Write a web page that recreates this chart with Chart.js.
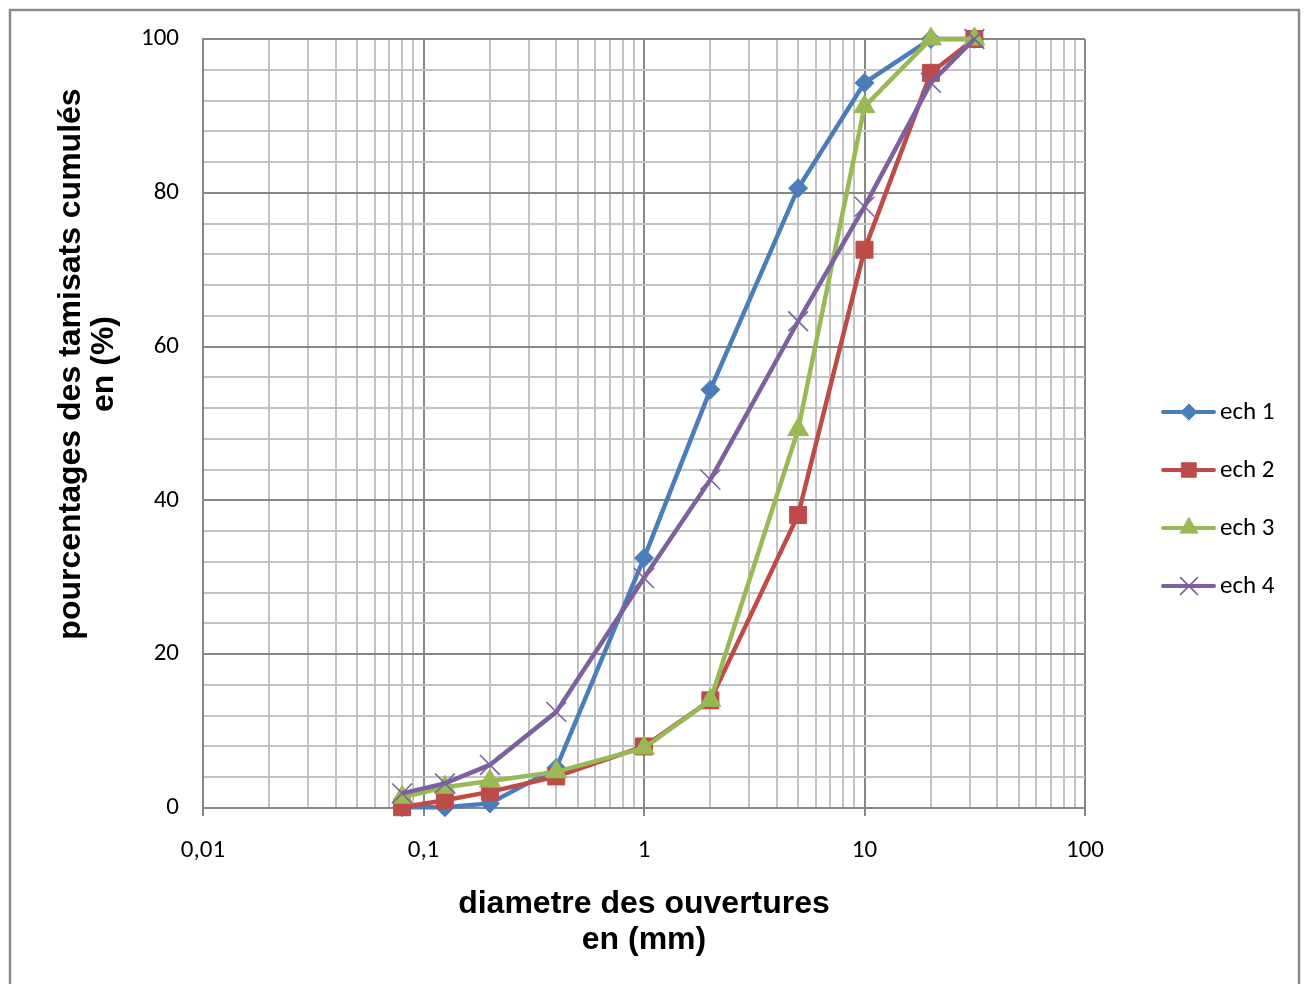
<!DOCTYPE html>
<html><head><meta charset="utf-8">
<script src="https://cdn.jsdelivr.net/npm/chart.js@4"></script>
<style>html,body{margin:0;padding:0;background:#fff}canvas{display:block}</style>
</head><body>
<canvas id="c" width="1304" height="984"></canvas>
<script>
// ---- data ----
const sieveSizes = [0.08, 0.125, 0.2, 0.4, 1, 2, 5, 10, 20, 31.5];
const ech1 = [0.1, 0.1, 0.6, 5.2, 32.5, 54.4, 80.6, 94.3, 100, 100];
const ech2 = [0.1, 1.0, 2.1, 4.1, 8.0, 14.0, 38.1, 72.6, 95.6, 100];
const ech3 = [1.4, 2.7, 3.5, 4.7, 7.8, 14.0, 49.2, 91.2, 100, 100];
const ech4 = [1.9, 3.2, 5.6, 12.5, 29.9, 42.7, 63.3, 78.2, 94.3, 100];
const seriesNames = ['ech 1', 'ech 2', 'ech 3', 'ech 4'];
const seriesValues = [ech1, ech2, ech3, ech4];
const xMajorTicks = [0.01, 0.1, 1, 10, 100];
const xTickLabels = ['0,01', '0,1', '1', '10', '100'];
const yMajorTicks = [0, 20, 40, 60, 80, 100];
const yTickLabels = ['0', '20', '40', '60', '80', '100'];
const yTitle = ['pourcentages des tamisats cumulés', 'en (%)'];
const xTitle = ['diametre des ouvertures', 'en (mm)'];

// ---- styles ----
const styles = [
  {color: '#4A7EBB', pointStyle: 'rectRot', radius: 9.5, pbw: 1},
  {color: '#BE4B48', pointStyle: 'rect', radius: 12, pbw: 1},
  {color: '#98B954', pointStyle: 'triangle', radius: 12, pbw: 1},
  {color: '#7D60A0', pointStyle: 'crossRot', radius: 14, pbw: 1.6}
];
const MAJOR = '#878787', MINOR = '#c3c3c3';
const TICK_FONT = {family: 'Carlito, Lato, sans-serif', size: 25};

const datasets = seriesValues.map((vals, i) => ({
  label: seriesNames[i],
  data: vals.map((v, k) => ({x: sieveSizes[k], y: v})),
  borderColor: styles[i].color,
  backgroundColor: styles[i].color,
  borderWidth: 4.5,
  pointStyle: styles[i].pointStyle,
  pointRadius: styles[i].radius,
  pointBackgroundColor: styles[i].color,
  pointBorderColor: styles[i].color,
  pointBorderWidth: styles[i].pbw,
  tension: 0,
  clip: false,
  order: seriesValues.length - i
}));

// gridline positions (1..9 per decade)
const xGrid = [];
for (let d = 0; d < xMajorTicks.length - 1; d++) {
  for (let m = 1; m <= 9; m++) xGrid.push(+(xMajorTicks[d] * m).toPrecision(6));
}
xGrid.push(xMajorTicks[xMajorTicks.length - 1]);
const yGrid = [];
for (let v = 0; v <= 100; v += 4) yGrid.push(v);

const isXMajor = v => xMajorTicks.some(t => Math.abs(t - v) / t < 1e-6);
const isYMajor = v => yMajorTicks.includes(v);

const framePlugin = {
  id: 'frame',
  beforeDraw(chart) {
    const ctx = chart.ctx;
    ctx.save();
    ctx.fillStyle = '#fff';
    ctx.fillRect(0, 0, chart.width, chart.height);
    ctx.strokeStyle = '#8a8a8a';
    ctx.lineWidth = 2.5;
    ctx.strokeRect(10, 10, 1289, 1000);
    ctx.restore();
  },
  afterDraw(chart) {
    const ctx = chart.ctx;
    ctx.save();
    // axis titles
    ctx.fillStyle = '#000';
    ctx.font = 'bold 32px "Liberation Sans", Arial, sans-serif';
    ctx.textAlign = 'center';
    ctx.textBaseline = 'middle';
    ctx.fillText(xTitle[0], 644, 904);
    ctx.fillText(xTitle[1], 644, 940);
    ctx.save();
    ctx.translate(71, 364);
    ctx.rotate(-Math.PI / 2);
    ctx.fillText(yTitle[0], 0, 0);
    ctx.restore();
    ctx.save();
    ctx.translate(104, 364);
    ctx.rotate(-Math.PI / 2);
    ctx.fillText(yTitle[1], 0, 0);
    ctx.restore();
    // legend
    chart.data.datasets.forEach((ds, i) => {
      const y = 412 + i * 58;
      ctx.strokeStyle = ds.borderColor;
      ctx.lineWidth = 4;
      ctx.lineCap = 'round';
      ctx.beginPath();
      ctx.moveTo(1163, y);
      ctx.lineTo(1214, y);
      ctx.stroke();
      const opts = {
        pointStyle: ds.pointStyle,
        radius: ds.pointRadius * 0.85,
        rotation: 0,
        borderWidth: ds.pointBorderWidth
      };
      ctx.fillStyle = ds.pointBackgroundColor;
      ctx.strokeStyle = ds.pointBorderColor;
      ctx.lineWidth = ds.pointBorderWidth;
      if (Chart.helpers && Chart.helpers.drawPoint) {
        Chart.helpers.drawPoint(ctx, opts, 1189, y);
      }
      ctx.fillStyle = '#000';
      ctx.font = '25px Carlito, Lato, sans-serif';
      ctx.textAlign = 'left';
      ctx.textBaseline = 'middle';
      ctx.fillText(ds.label, 1220, y + 1);
    });
    ctx.restore();
  }
};

new Chart(document.getElementById('c'), {
  type: 'line',
  data: {datasets},
  plugins: [framePlugin],
  options: {
    responsive: false,
    animation: false,
    events: [],
    layout: {padding: {top: 39, right: 219, left: 0, bottom: 0}},
    plugins: {legend: {display: false}, title: {display: false}, tooltip: {enabled: false}},
    scales: {
      x: {
        type: 'logarithmic',
        min: 0.01,
        max: 100,
        afterFit(s) { s.height = 176; },
        afterBuildTicks(s) { s.ticks = xGrid.map(v => ({value: v, major: isXMajor(v)})); },
        border: {display: true, color: MAJOR, width: 2},
        grid: {
          color: c => isXMajor(c.tick.value) ? MAJOR : MINOR,
          lineWidth: 2,
          drawTicks: true,
          tickLength: 8,
          tickColor: c => isXMajor(c.tick.value) ? MAJOR : 'rgba(0,0,0,0)',
          tickWidth: 2
        },
        ticks: {
          autoSkip: false,
          maxRotation: 0,
          minRotation: 0,
          padding: 20,
          color: '#000',
          font: TICK_FONT,
          callback(v) {
            const idx = xMajorTicks.findIndex(t => Math.abs(t - v) / t < 1e-6);
            return idx >= 0 ? xTickLabels[idx] : '';
          }
        }
      },
      y: {
        type: 'linear',
        min: 0,
        max: 100,
        afterFit(s) { s.width = 203; },
        afterBuildTicks(s) { s.ticks = yGrid.map(v => ({value: v})); },
        border: {display: true, color: MAJOR, width: 2},
        grid: {
          color: c => isYMajor(c.tick.value) ? MAJOR : MINOR,
          lineWidth: 2,
          drawTicks: false
        },
        ticks: {
          autoSkip: false,
          padding: 24,
          color: '#000',
          font: TICK_FONT,
          callback(v) {
            const idx = yMajorTicks.indexOf(v);
            return idx >= 0 ? yTickLabels[idx] : '';
          }
        }
      }
    }
  }
});
</script>
</body></html>
